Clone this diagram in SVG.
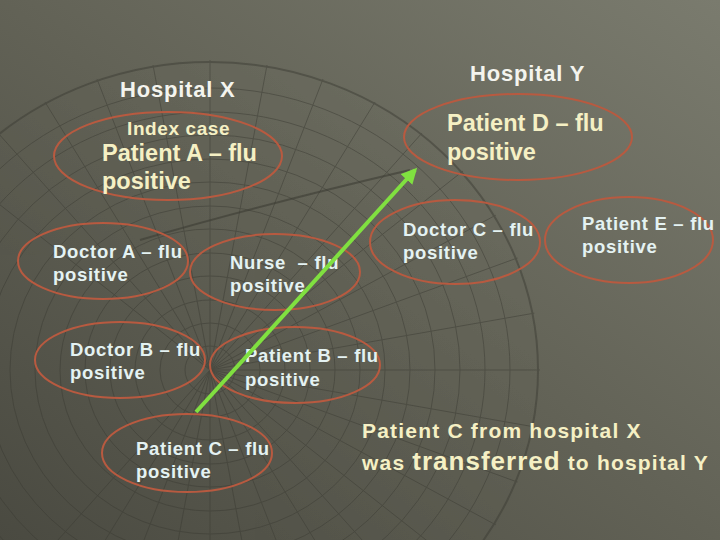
<svg xmlns="http://www.w3.org/2000/svg" width="720" height="540" viewBox="0 0 720 540">
<defs>
<linearGradient id="bg" x1="1" y1="0" x2="0" y2="1">
<stop offset="0" stop-color="#7a7b6e"/>
<stop offset="0.5" stop-color="#626256"/>
<stop offset="1" stop-color="#4a4a41"/>
</linearGradient>
<clipPath id="meshclip"><ellipse cx="210" cy="370" rx="330" ry="310"/></clipPath>
<marker id="ah" viewBox="0 0 10 10" refX="8" refY="5" markerWidth="4" markerHeight="4" orient="auto" markerUnits="strokeWidth">
<path d="M0,0 L10,5 L0,10 z" fill="#80e040"/>
</marker>
<style>
.node ellipse{fill:none;stroke:#b85a40;stroke-width:2}
text{font-family:"Liberation Sans",Arial,sans-serif;font-weight:bold}
.title{fill:#f4f4ee;font-size:22px;letter-spacing:0.8px}
.yel{fill:#f5f0c4}
.cyan{fill:#e4f2f2;font-size:18.5px;letter-spacing:0.7px}
.big{font-size:23.5px}
.note{font-size:21px;letter-spacing:1.2px}
.mesh{fill:none;stroke:#3c3c34;stroke-width:1;opacity:0.5}
</style>
</defs>
<rect width="720" height="540" fill="url(#bg)"/>
<g id="background-mesh" clip-path="url(#meshclip)" class="mesh">
<ellipse cx="210" cy="370" rx="25" ry="24"/>
<ellipse cx="210" cy="370" rx="50" ry="47"/>
<ellipse cx="210" cy="370" rx="75" ry="70"/>
<ellipse cx="210" cy="370" rx="100" ry="94"/>
<ellipse cx="210" cy="370" rx="125" ry="117"/>
<ellipse cx="210" cy="370" rx="150" ry="141"/>
<ellipse cx="210" cy="370" rx="175" ry="164"/>
<ellipse cx="210" cy="370" rx="200" ry="188"/>
<ellipse cx="210" cy="370" rx="225" ry="211"/>
<ellipse cx="210" cy="370" rx="250" ry="235"/>
<ellipse cx="210" cy="370" rx="275" ry="258"/>
<ellipse cx="210" cy="370" rx="300" ry="282"/>
<ellipse cx="210" cy="370" rx="328" ry="308" stroke-width="2"/>
<path d="M210,370 L540,370 M210,370 L535,313 M210,370 L520,257 M210,370 L496,215 M210,370 L463,171 M210,370 L422,133 M210,370 L375,102 M210,370 L323,79 M210,370 L267,65 M210,370 L210,60 M210,370 L153,65 M210,370 L97,79 M210,370 L45,102 M210,370 L-2,133 M210,370 L-43,171 M210,370 L535,427 M210,370 L520,483 M210,370 L496,525 M210,370 L463,569 M210,370 L422,607 M210,370 L375,638 M210,370 L323,661 M210,370 L267,675 M210,370 L210,680 M210,370 L153,675 M210,370 L97,661 M210,370 L45,638 M210,370 L-2,607"/>
</g>
<path d="M140,240 Q260,205 410,170" fill="none" stroke="#3c3c34" stroke-width="2" opacity="0.6"/>
<g id="labels">
<text class="title" x="120" y="97">Hospital X</text>
<text class="title" x="470" y="81">Hospital Y</text>
</g>
<g id="patient-a" class="node">
<ellipse cx="168" cy="156" rx="114" ry="44"/>
<text class="yel" x="127" y="135" font-size="19" letter-spacing="0.6">Index case</text>
<text class="yel big" x="102" y="161">Patient A – flu</text>
<text class="yel big" x="102" y="189">positive</text>
</g>
<g id="patient-d" class="node">
<ellipse cx="518" cy="137" rx="114" ry="43"/>
<text class="yel big" x="447" y="131">Patient D – flu</text>
<text class="yel big" x="447" y="160">positive</text>
</g>
<g id="doctor-a" class="node">
<ellipse cx="103" cy="261" rx="85" ry="38"/>
<text class="cyan" x="53" y="258">Doctor A – flu</text>
<text class="cyan" x="53" y="281">positive</text>
</g>
<g id="nurse" class="node">
<ellipse cx="275" cy="272" rx="85" ry="38"/>
<text class="cyan" x="230" y="269" xml:space="preserve">Nurse  – flu</text>
<text class="cyan" x="230" y="292">positive</text>
</g>
<g id="doctor-c" class="node">
<ellipse cx="455" cy="242" rx="85" ry="42"/>
<text class="cyan" x="403" y="236">Doctor C – flu</text>
<text class="cyan" x="403" y="259">positive</text>
</g>
<g id="patient-e" class="node">
<ellipse cx="629" cy="240" rx="84" ry="43"/>
<text class="cyan" x="582" y="230">Patient E – flu</text>
<text class="cyan" x="582" y="253">positive</text>
</g>
<g id="doctor-b" class="node">
<ellipse cx="120" cy="360" rx="85" ry="38"/>
<text class="cyan" x="70" y="356">Doctor B – flu</text>
<text class="cyan" x="70" y="379">positive</text>
</g>
<g id="patient-b" class="node">
<ellipse cx="295" cy="365" rx="85" ry="38"/>
<text class="cyan" x="245" y="362">Patient B – flu</text>
<text class="cyan" x="245" y="386">positive</text>
</g>
<g id="patient-c" class="node">
<ellipse cx="187" cy="453" rx="85" ry="39"/>
<text class="cyan" x="136" y="455">Patient C – flu</text>
<text class="cyan" x="136" y="478">positive</text>
</g>
<g id="connectors">
<line x1="196" y1="412" x2="415" y2="170" stroke="#80e040" stroke-width="4" marker-end="url(#ah)"/>
</g>
<g id="note">
<text class="yel note" x="362" y="438">Patient C from hospital X</text>
<text class="yel note" x="362" y="470">was <tspan font-size="26" letter-spacing="1">transferred</tspan> to hospital Y</text>
</g>
</svg>
